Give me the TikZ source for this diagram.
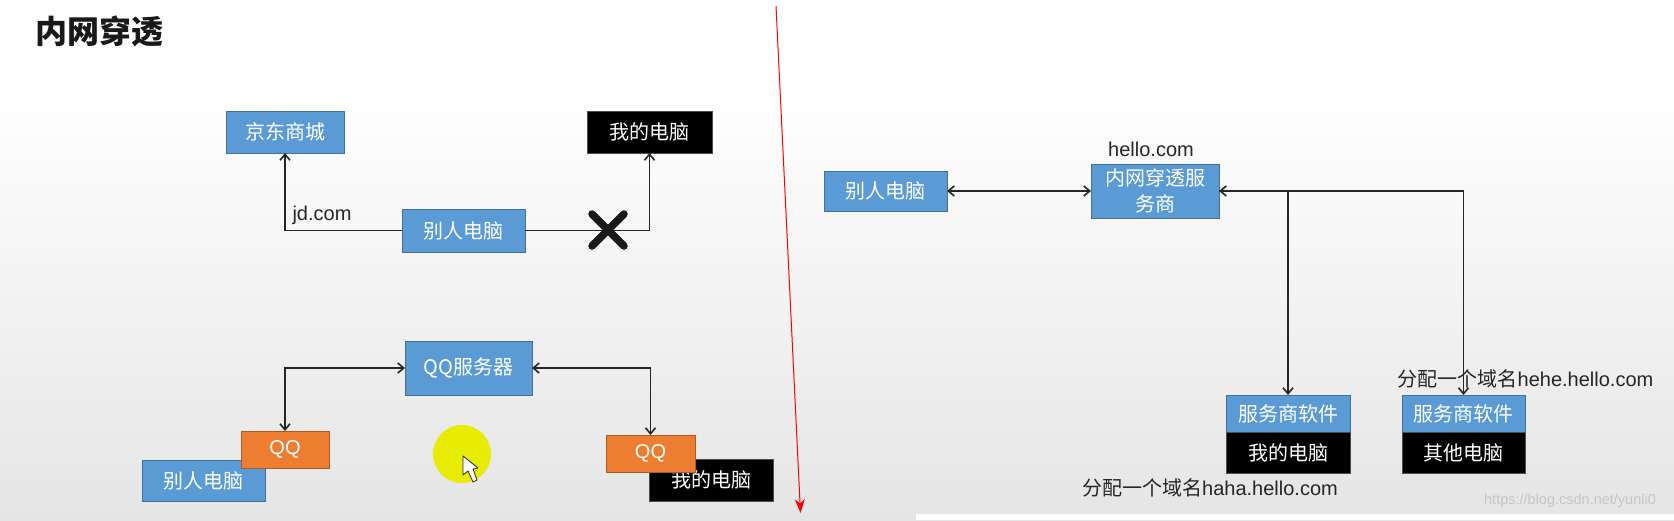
\documentclass[tikz,border=0pt]{standalone}
\usepackage{fontspec}
\setmainfont{Liberation Sans}
\newfontfamily\cjk{Noto Sans CJK SC}
\usetikzlibrary{arrows.meta}
\definecolor{boxblue}{HTML}{5B9BD5}
\definecolor{boxedge}{HTML}{41719C}
\definecolor{boxorange}{HTML}{ED7D31}
\definecolor{orangeedge}{HTML}{AE5A21}
\definecolor{bgbottom}{HTML}{E5E5E6}
\definecolor{glow}{HTML}{E8EC00}
\definecolor{markgray}{HTML}{C6C6C8}
\tikzset{
  x=1pt,y=-1pt,
  base/.style={inner sep=0pt,outer sep=0pt,align=center,font=\fontsize{20}{26}\selectfont\cjk},
  bluebox/.style={base,fill=boxblue,draw=boxedge,line width=0.8pt,text=white},
  blackbox/.style={base,fill=black,draw=black!70,line width=0.6pt,text=white},
  orangebox/.style={base,fill=boxorange,draw=orangeedge,line width=0.8pt,text=white},
  label/.style={inner sep=0pt,outer sep=0pt,text=black!85,font=\fontsize{20}{24}\selectfont},
  link/.style={draw=black!85,line width=1.6pt,-{Straight Barb[length=6pt,width=10pt]}},
  dlink/.style={draw=black!85,line width=1.6pt,{Straight Barb[length=6pt,width=10pt]}-{Straight Barb[length=6pt,width=10pt]}}
}
\newcommand{\rbox}[6]{\node[#1,minimum width=#4-#3,minimum height=#6-#5] (#2) at ({(#3+#4)/2},{(#5+#6)/2}) }
\begin{document}
\begin{tikzpicture}
\useasboundingbox (0,0) rectangle (1674,520);
\fill[white] (0,0) rectangle (1674,520);
\shade[top color=white,bottom color=bgbottom,shading angle=0] (0,90) rectangle (1674,520);
\fill[white] (916,514) rectangle (1674,520);

\node[inner sep=0pt,text=black!90,font=\fontsize{32}{36}\selectfont\bfseries\cjk] (title) at (99,31) {内网穿透};

% top left
\rbox{bluebox}{jd}{226}{344}{111}{153} {京东商城};
\rbox{blackbox}{mine}{587}{712}{111}{153} {我的电脑};
\rbox{bluebox}{other}{402}{525}{209}{252} {别人电脑};
\draw[link] (other.west) -| (jd.south);
\draw[link] (other.east) -| (mine.south);
\node[label] (jdcom) at (322,215) {jd.com};
\coordinate (xa) at (592,214);
\coordinate (xb) at (624,246);
\coordinate (xc) at (624,214);
\coordinate (xd) at (592,246);
\draw[line width=7.5pt,line cap=round,black!90] (xa) -- (xb) (xc) -- (xd);

% bottom left
\rbox{bluebox}{server}{405}{532}{341}{395} {QQ服务器};
\rbox{bluebox}{otherb}{142}{265}{460}{501} {别人电脑};
\rbox{blackbox}{mineb}{649}{773}{459}{501} {我的电脑};
\rbox{orangebox}{qql}{241}{329}{431}{468} {\fontspec{Liberation Sans}QQ};
\rbox{orangebox}{qqr}{606}{695}{435}{472} {\fontspec{Liberation Sans}QQ};
\draw[dlink] (server.west) -| (qql.north);
\draw[dlink] (server.east) -| (qqr.north);

% cursor highlight
\fill[glow] (462,454) ellipse (29 and 29);
\coordinate (c0) at (463,456);
\coordinate (c1) at (463,475);
\coordinate (c2) at (468,471);
\coordinate (c3) at (473,482);
\coordinate (c4) at (477,480);
\coordinate (c5) at (473,469);
\coordinate (c6) at (478,468);
\draw[fill=white,draw=black!85,line width=0.8pt,line join=round] (c0) -- (c1) -- (c2) -- (c3) -- (c4) -- (c5) -- (c6) -- cycle;

% red divider
\coordinate (ra) at (776,6);
\coordinate (rb) at (800.5,513);
\draw[red,line width=1pt,-{Stealth[length=14pt,width=10pt]}] (ra) -- (rb);

% right
\rbox{bluebox}{otherc}{824}{947}{171}{211} {别人电脑};
\rbox{bluebox}{prov}{1091}{1219}{164}{218} {\fontsize{20}{25}\selectfont 内网穿透服\\务商};
\node[label] (hello) at (1151,149) {hello.com};
\rbox{bluebox}{sw1}{1226}{1350}{395}{432} {服务商软件};
\rbox{blackbox}{pc1}{1226}{1350}{432}{473} {我的电脑};
\rbox{bluebox}{sw2}{1402}{1525}{395}{432} {服务商软件};
\rbox{blackbox}{pc2}{1402}{1525}{432}{473} {其他电脑};
\draw[dlink] (otherc.east) -- (prov.west);
\draw[link] (prov.east) -| (sw1.north);
\draw[dlink] (prov.east) -| (sw2.north);
\node[label] (hehe) at (1525.5,379) {{\cjk 分配一个域名}hehe.hello.com};
\node[label] (haha) at (1210,488) {{\cjk 分配一个域名}haha.hello.com};
\node[inner sep=0pt,text=markgray,font=\fontsize{14.5}{16}\selectfont] (mark) at (1570,501) {https://blog.csdn.net/yunli0};
\end{tikzpicture}
\end{document}
